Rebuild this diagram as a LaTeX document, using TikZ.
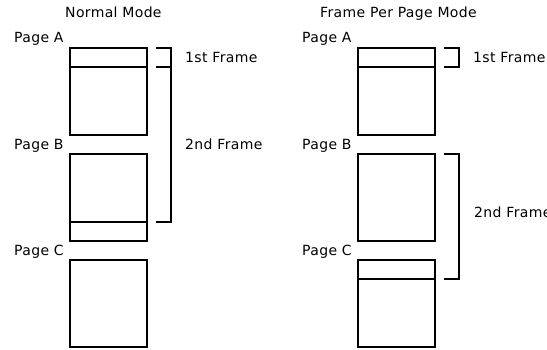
\documentclass[tikz,border=0pt]{standalone}
\usepackage{fontspec}
\setmainfont{DejaVu Sans}[LetterSpace=2.5]
\begin{document}
\begin{tikzpicture}[x=1pt,y=-1pt,
  pg/.style={draw=black,line width=2.8pt},
  lbl/.style={anchor=base west,inner sep=0pt,font=\fontsize{14}{16}\selectfont},
  brk/.style={draw=black,line width=2.8pt}]
\useasboundingbox (0,0) rectangle (547,350);
% ---- Normal Mode ----
\node[lbl] (t1) at (65,18) {Normal Mode};
\node[lbl] (la1) at (14,43) {Page A};
\node[lbl] (lb1) at (14,150) {Page B};
\node[lbl] (lc1) at (14,256) {Page C};
\draw[pg] (70,48) rectangle (147,135);
\draw[pg] (70,67) -- (147,67);
\draw[pg] (70,154) rectangle (147,241);
\draw[pg] (70,222) -- (147,222);
\draw[pg] (70,260) rectangle (147,347);
\draw[brk] (156,48) -- (171,48) -- (171,222) -- (156,222);
\draw[brk] (156,67) -- (171,67);
\node[lbl] (f11) at (185,63) {1st Frame};
\node[lbl] (f12) at (185,150) {2nd Frame};
% ---- Frame Per Page Mode ----
\node[lbl] (t2) at (320,18) {Frame Per Page Mode};
\node[lbl] (la2) at (302,43) {Page A};
\node[lbl] (lb2) at (302,150) {Page B};
\node[lbl] (lc2) at (302,256) {Page C};
\draw[pg] (358,48) rectangle (435,135);
\draw[pg] (358,67) -- (435,67);
\draw[pg] (358,154) rectangle (435,241);
\draw[pg] (358,260) rectangle (435,347);
\draw[pg] (358,279) -- (435,279);
\draw[brk] (444,48) -- (459,48) -- (459,67) -- (444,67);
\draw[brk] (444,154) -- (459,154) -- (459,279) -- (444,279);
\node[lbl] (f21) at (473,63) {1st Frame};
\node[lbl] (f22) at (474,218) {2nd Frame};
\end{tikzpicture}
\end{document}
